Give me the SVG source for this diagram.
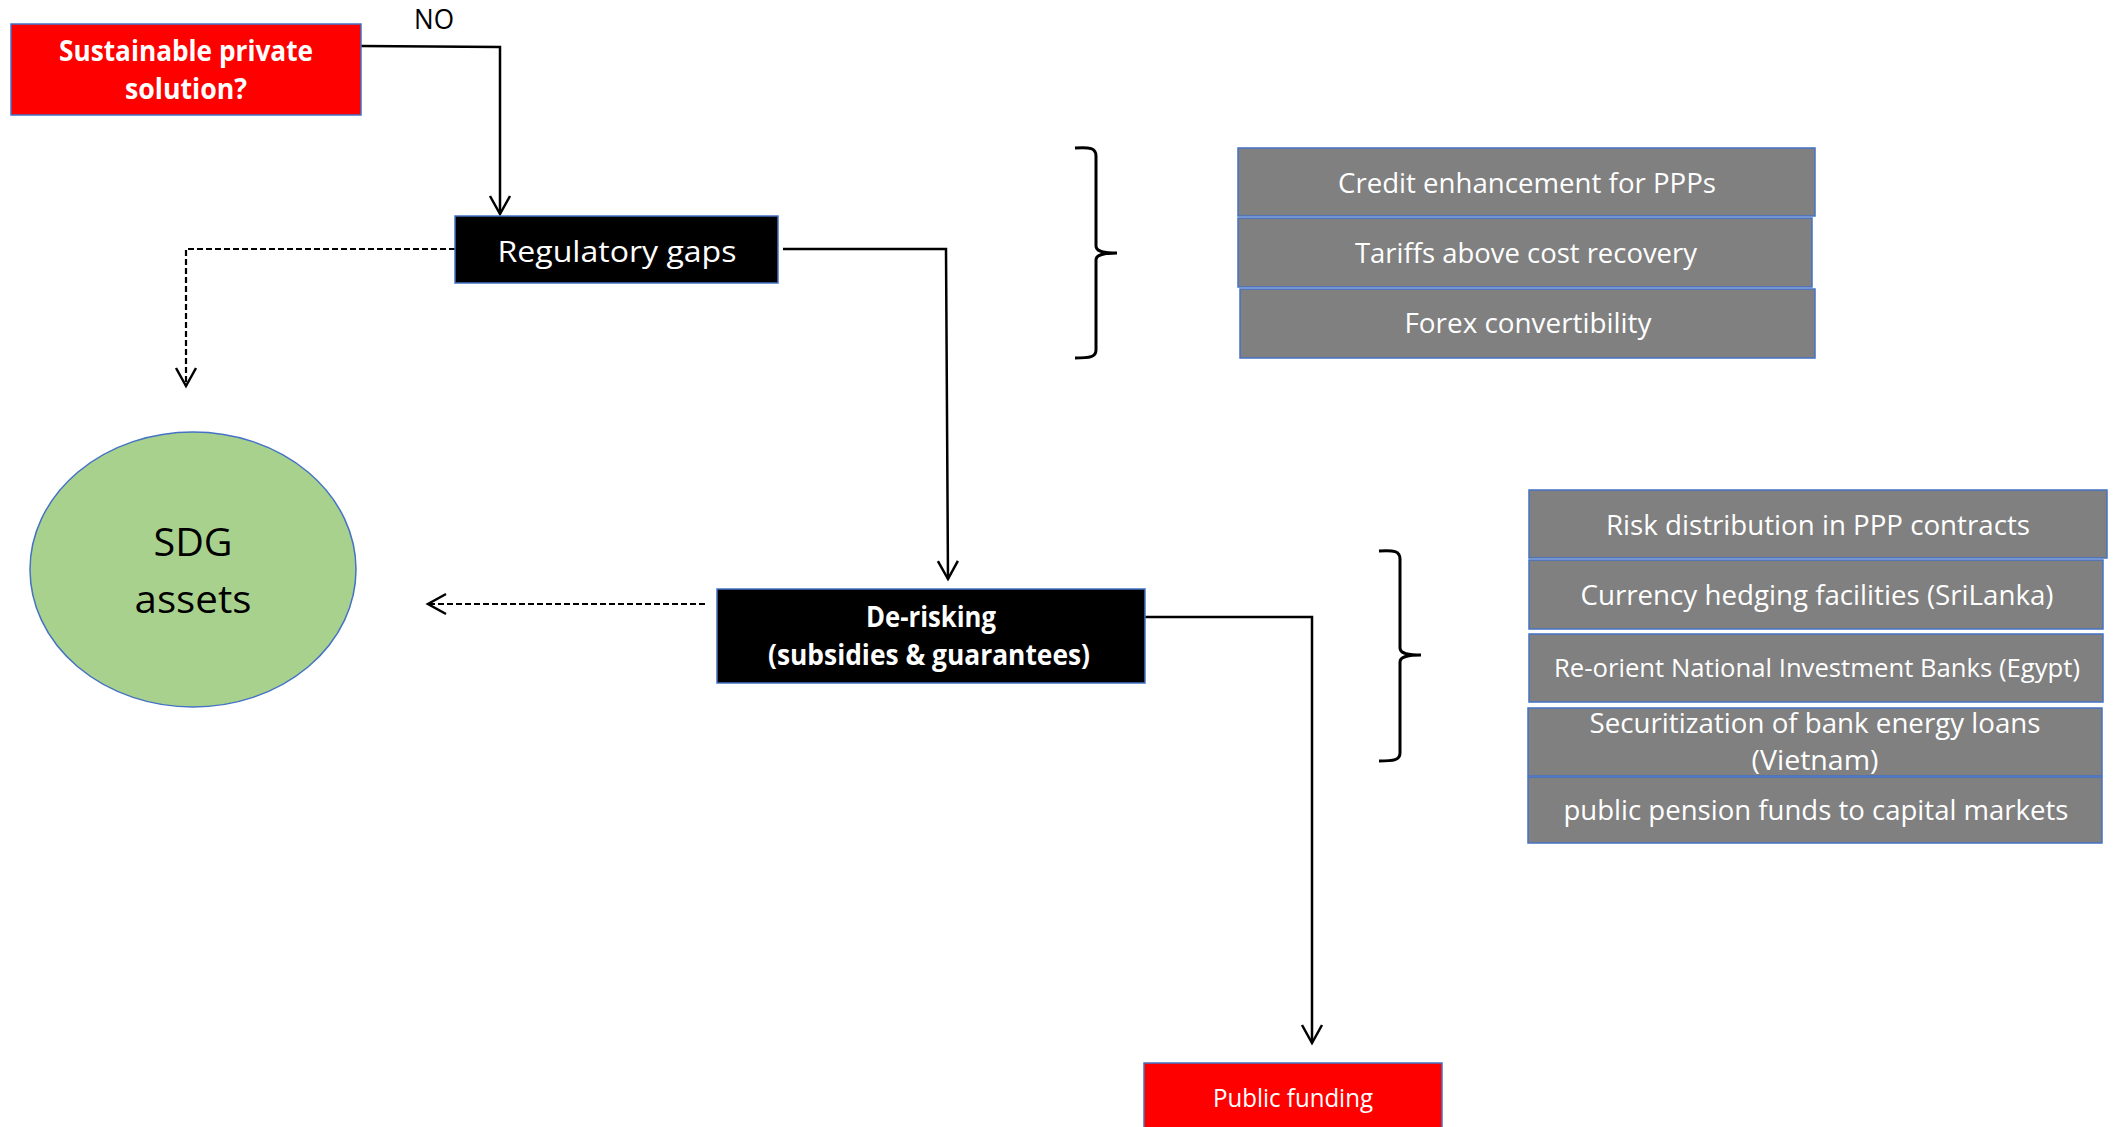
<svg xmlns="http://www.w3.org/2000/svg" width="2121" height="1127" viewBox="0 0 2121 1127">
<style>
.box{stroke:#4472C4;stroke-width:1.5}
.red{fill:#FF0000}
.blk{fill:#000000}
.grey{fill:#808080}
.t{font-family:"Open Sans","Noto Sans","Liberation Sans",sans-serif;text-anchor:middle}
.w{fill:#FFFFFF}
.b{font-weight:bold}
.conn{fill:none;stroke:#000;stroke-width:2.5}
.dash{fill:none;stroke:#000;stroke-width:2.2;stroke-dasharray:6,3}
.brace{fill:none;stroke:#000;stroke-width:3}
</style>
<defs>
<marker id="arr" viewBox="-22 -13 26 26" refX="0" refY="0" markerWidth="26" markerHeight="26" markerUnits="userSpaceOnUse" orient="auto">
<path d="M-18,-10 L0,0 L-18,10" fill="none" stroke="#000" stroke-width="2.5"/>
</marker>
</defs>
<rect width="2121" height="1127" fill="#FFFFFF"/>

<g id="connectors">
<polyline class="conn" points="361,46 500,47 500,214" marker-end="url(#arr)"/>
<polyline class="dash" points="455,249 186,249 186,386" marker-end="url(#arr)"/>
<polyline class="conn" points="783,249 946,249 948,579" marker-end="url(#arr)"/>
<polyline class="dash" points="705,604 428,604" marker-end="url(#arr)"/>
<polyline class="conn" points="1145,617 1312,617 1312,1043" marker-end="url(#arr)"/>
<text class="t" x="434" y="29" font-size="28" textLength="40" lengthAdjust="spacingAndGlyphs">NO</text>
</g>

<g id="node-private">
<rect class="box red" x="11" y="24" width="350" height="91"/>
<text class="t w b" x="186" y="61" font-size="28" textLength="254" lengthAdjust="spacingAndGlyphs">Sustainable private</text>
<text class="t w b" x="186" y="99" font-size="28" textLength="122" lengthAdjust="spacingAndGlyphs">solution?</text>
</g>

<g id="node-regulatory">
<rect class="box blk" x="455" y="216" width="323" height="67"/>
<text class="t w" x="617" y="262" font-size="29" textLength="239" lengthAdjust="spacingAndGlyphs">Regulatory gaps</text>
</g>

<g id="node-sdg">
<ellipse cx="193" cy="569.5" rx="163" ry="137.5" fill="#A9D18E" stroke="#4472C4" stroke-width="1.5"/>
<text class="t" x="193" y="556" font-size="39" textLength="79" lengthAdjust="spacingAndGlyphs">SDG</text>
<text class="t" x="193" y="613" font-size="39" textLength="117" lengthAdjust="spacingAndGlyphs">assets</text>
</g>

<g id="node-derisking">
<rect class="box blk" x="717" y="589" width="428" height="94"/>
<text class="t w b" x="931" y="627" font-size="28" textLength="130" lengthAdjust="spacingAndGlyphs">De-risking</text>
<text class="t w b" x="929" y="665" font-size="28" textLength="322" lengthAdjust="spacingAndGlyphs">(subsidies &amp; guarantees)</text>
</g>

<g id="node-public">
<rect class="box red" x="1144" y="1063" width="298" height="80"/>
<text class="t w" x="1293" y="1107" font-size="25" textLength="160" lengthAdjust="spacingAndGlyphs">Public funding</text>
</g>

<g id="brace-1">
<path class="brace" d="M1075,148 C1090,147 1096,148 1096,156 L1096,246 C1096,251 1102,253 1117,253 C1102,253 1096,255 1096,260 L1096,350 C1096,357 1090,358 1075,358"/>
</g>

<g id="brace-2">
<path class="brace" d="M1379,551 C1394,550 1400,551 1400,559 L1400,648 C1400,653 1406,655 1421,655 C1406,655 1400,657 1400,662 L1400,753 C1400,760 1394,761 1379,761"/>
</g>

<g id="node-credit">
<rect class="box grey" x="1238" y="148" width="577" height="68"/>
<text class="t w" x="1527" y="193" font-size="28" textLength="378" lengthAdjust="spacingAndGlyphs">Credit enhancement for PPPs</text>
</g>
<g id="node-tariffs">
<rect class="box grey" x="1238" y="218" width="574" height="69"/>
<text class="t w" x="1526" y="263" font-size="28" textLength="342" lengthAdjust="spacingAndGlyphs">Tariffs above cost recovery</text>
</g>
<g id="node-forex">
<rect class="box grey" x="1240" y="289" width="575" height="69"/>
<text class="t w" x="1528" y="333" font-size="28" textLength="247" lengthAdjust="spacingAndGlyphs">Forex convertibility</text>
</g>

<g id="node-risk">
<rect class="box grey" x="1529" y="490" width="578" height="68"/>
<text class="t w" x="1818" y="535" font-size="28" textLength="424" lengthAdjust="spacingAndGlyphs">Risk distribution in PPP contracts</text>
</g>
<g id="node-currency">
<rect class="box grey" x="1529" y="560" width="574" height="69"/>
<text class="t w" x="1817" y="605" font-size="28" textLength="473" lengthAdjust="spacingAndGlyphs">Currency hedging facilities (SriLanka)</text>
</g>
<g id="node-reorient">
<rect class="box grey" x="1529" y="634" width="574" height="68"/>
<text class="t w" x="1817" y="677" font-size="26" textLength="526" lengthAdjust="spacingAndGlyphs">Re-orient National Investment Banks (Egypt)</text>
</g>
<g id="node-securitization">
<rect class="box grey" x="1528" y="708" width="574" height="68"/>
<text class="t w" x="1815" y="733" font-size="28" textLength="451" lengthAdjust="spacingAndGlyphs">Securitization of bank energy loans</text>
<text class="t w" x="1815" y="770" font-size="28" textLength="127" lengthAdjust="spacingAndGlyphs">(Vietnam)</text>
</g>
<g id="node-pension">
<rect class="box grey" x="1528" y="777" width="574" height="66"/>
<text class="t w" x="1816" y="820" font-size="28" textLength="505" lengthAdjust="spacingAndGlyphs">public pension funds to capital markets</text>
</g>
</svg>
